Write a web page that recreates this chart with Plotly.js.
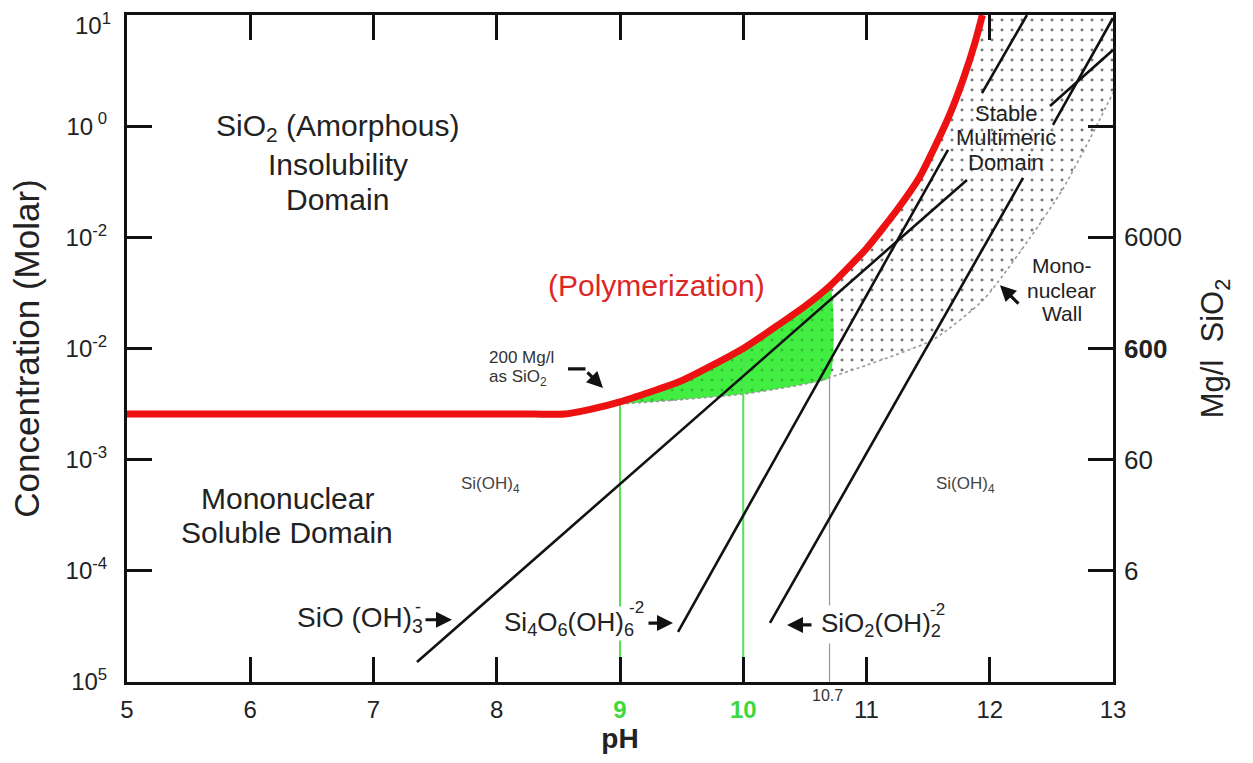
<!DOCTYPE html>
<html>
<head>
<meta charset="utf-8">
<script src="https://cdn.plot.ly/plotly-3.0.1.min.js"></script>
<style>html,body{margin:0;padding:0;background:#fff;}#chart{width:1253px;height:763px;}</style>
</head>
<body>
<div id="chart"></div>
<script>
// ---- data (pH, log10 molar concentration) ----
const redPH  = [5, 7.5, 8.3, 8.55, 8.75, 9.0, 9.5, 10.0, 10.5, 10.7, 11.0, 11.25, 11.43, 11.57, 11.69, 11.79, 11.88, 11.94];
const redLog = [-2.59, -2.59, -2.59, -2.59, -2.55, -2.48, -2.29, -2.00, -1.62, -1.44, -1.10, -0.75, -0.46, -0.15, 0.145, 0.44, 0.75, 1.0];

const wallPH  = [9.0, 9.5, 10.0, 10.5, 10.7, 11.0, 11.54, 11.95, 12.33, 12.59, 12.81, 13.0];
const wallLog = [-2.50, -2.46, -2.41, -2.32, -2.26, -2.15, -1.92, -1.56, -1.0, -0.57, -0.12, 0.30];

const monoPH   = [7.353, 11.815, null, 12.489, 13.0];
const monoLog  = [-4.82, -0.484, null, 0.181, 0.685];
const tetraPH  = [9.471, 11.661, null, 11.937, 12.302];
const tetraLog = [-4.55, -0.214, null, 0.298, 1.0];
const diPH     = [10.217, 12.27, null, 12.513, 13.0];
const diLog    = [-4.469, -0.466, null, 0.011, 0.973];

const guidePH     = [9, 10, 10.7];
const guideTopLog = [-2.48, -2.00, -2.26];
const guideColors = ['#55e055', '#55e055', '#999999'];

const xTickVals = [5, 6, 7, 8, 9, 10, 11, 12, 13];
const xTickText = ['5', '6', '7', '8',
  '<span style="color:#3fd83f"><b>9</b></span>',
  '<span style="color:#3fd83f"><b>10</b></span>', '11', '12', '13'];
const yTickVals = [1e1, 1e0, 1e-1, 1e-2, 1e-3, 1e-4, 1e-5];
const yTickText = ['', '10<sup> 0</sup>', '10<sup>-2</sup>', '10<sup>-2</sup>', '10<sup>-3</sup>', '10<sup>-4</sup>', '10<sup>5</sup>'];
const yTopLabel = '10<sup>1</sup>';
const mgTickVals = [1e-1, 1e-2, 1e-3, 1e-4];
const mgTickText = ['6000', '<b>600</b>', '60', '6'];

const X_MIN = 5, X_MAX = 13, LOG_MIN = -5, LOG_MAX = 1;
const pw = v => Math.pow(10, v);
const toC = arr => arr.map(v => v === null ? null : pw(v));

// ---- polygons built from the curves ----
const redFrom9 = redPH.map((p, i) => [p, redLog[i]]).filter(d => d[0] >= 9);
const wallAll = wallPH.map((p, i) => [p, wallLog[i]]);
const dotPoly = redFrom9.concat([[X_MAX, LOG_MAX]]).concat(wallAll.slice().reverse());
const greenTop = redFrom9.filter(d => d[0] <= 10.7);
const greenBot = wallAll.filter(d => d[0] <= 10.7).reverse();
const greenPoly = greenTop.concat(greenBot);

const traces = [];
traces.push({
  x: dotPoly.map(d => d[0]), y: dotPoly.map(d => pw(d[1])),
  mode: 'lines', line: {width: 0, shape: 'spline', smoothing: 0.6}, fill: 'toself', fillcolor: 'rgba(255,255,255,0)',
  fillpattern: {shape: '.', size: 10, solidity: 0.07, fgcolor: '#777777', bgcolor: 'rgba(255,255,255,0)'},
  hoverinfo: 'skip', showlegend: false
});
traces.push({
  x: greenPoly.map(d => d[0]), y: greenPoly.map(d => pw(d[1])),
  mode: 'lines', line: {width: 0, shape: 'spline', smoothing: 0.6}, fill: 'toself', fillcolor: 'rgb(66,238,66)',
  fillpattern: {shape: '.', size: 10, solidity: 0.07, fgcolor: '#2fbf2f', bgcolor: 'rgb(66,238,66)'},
  hoverinfo: 'skip', showlegend: false
});
traces.push({
  x: wallPH, y: toC(wallLog), mode: 'lines',
  line: {color: '#999999', width: 1.6, dash: 'dot', shape: 'spline', smoothing: 0.6}, hoverinfo: 'skip', showlegend: false
});
guidePH.forEach((p, i) => {
  traces.push({
    x: [p, p], y: [pw(LOG_MIN), pw(guideTopLog[i])], mode: 'lines',
    line: {color: guideColors[i], width: i === 2 ? 1.2 : 2}, hoverinfo: 'skip', showlegend: false
  });
});
[[monoPH, monoLog], [tetraPH, tetraLog], [diPH, diLog]].forEach(s => {
  traces.push({
    x: s[0], y: toC(s[1]), mode: 'lines', connectgaps: false,
    line: {color: '#111', width: 2.6}, hoverinfo: 'skip', showlegend: false
  });
});
traces.push({
  x: redPH, y: toC(redLog), mode: 'lines',
  line: {color: '#ee1111', width: 7, shape: 'spline', smoothing: 0.5}, hoverinfo: 'skip', showlegend: false
});
traces.push({x: [], y: [], yaxis: 'y2', mode: 'lines', hoverinfo: 'skip', showlegend: false});

const F = '"Liberation Sans", Arial, Helvetica, sans-serif';
const ann = (x, y, text, size, extra) => Object.assign({
  x: x, y: y, xref: 'x', yref: 'y', text: text, showarrow: false,
  font: {family: F, size: size, color: '#222'}
}, extra || {});
const arrow = (x, y, ax, ay, head) => ({
  x: x, y: y, xref: 'x', yref: 'y', text: '', showarrow: true,
  ax: ax, ay: ay, arrowhead: head, arrowsize: 1, arrowwidth: 3.2, arrowcolor: '#111'
});

const annotations = [
  ann(X_MIN, 0.915, yTopLabel, 24, {xanchor: 'right', xshift: -14, font: {family: F, size: 24, color: '#222'}}),
  ann(6.71, -0.016, 'SiO<sub>2</sub> (Amorphous)', 30),
  ann(6.71, -0.349, 'Insolubility', 30),
  ann(6.71, -0.664, 'Domain', 30),
  ann(6.30, -3.345, 'Mononuclear', 30),
  ann(6.30, -3.651, 'Soluble Domain', 30),
  ann(9.30, -1.43, '(Polymerization)', 30, {font: {family: F, size: 30, color: '#dd2626'}}),
  ann(7.921, -2.085, '200 Mg/l', 17, {xanchor: 'left', font: {family: F, size: 17, color: '#333'}}),
  ann(7.921, -2.265, 'as SiO<sub>2</sub>', 17, {xanchor: 'left', font: {family: F, size: 17, color: '#333'}}),
  ann(7.95, -3.23, 'Si(OH)<sub>4</sub>', 17, {font: {family: F, size: 17, color: '#444'}}),
  ann(11.80, -3.23, 'Si(OH)<sub>4</sub>', 17, {font: {family: F, size: 17, color: '#444'}}),
  ann(7.418, -4.44, 'SiO (OH)<sub>3</sub>', 28, {xanchor: 'right'}),
  ann(7.36, -4.325, '-', 18),
  ann(9.122, -4.47, 'Si<sub>4</sub>O<sub>6</sub>(OH)<sub>6</sub>', 26, {xanchor: 'right', bgcolor: '#ffffff', borderpad: 0}),
  ann(9.13, -4.334, '-2', 17),
  ann(10.606, -4.487, 'SiO<sub>2</sub>(OH)<sub>2</sub>', 26, {xanchor: 'left', bgcolor: '#ffffff', borderpad: 2}),
  ann(11.572, -4.352, '-2', 17),
  ann(12.132, 0.118, 'Stable', 22),
  ann(12.132, -0.106, 'Multimeric', 22),
  ann(12.132, -0.331, 'Domain', 22),
  ann(12.586, -1.249, 'Mono-', 21),
  ann(12.586, -1.474, 'nuclear', 21),
  ann(12.586, -1.681, 'Wall', 21),
  {x: 10.68, y: -0.0195, xref: 'x', yref: 'paper', yanchor: 'middle', text: '10.7', showarrow: false,
   font: {family: F, size: 16, color: '#333'}},
  arrow(7.637, -4.44, -28, 0, 2),
  arrow(9.43, -4.47, -26, 0, 2),
  arrow(10.355, -4.487, 26, 0, 2),
  arrow(12.083, -1.43, 20, 20, 2),
  arrow(8.862, -2.355, -17, -17, 2),
  {x: 8.72, y: -2.184, xref: 'x', yref: 'y', text: '', showarrow: true, ax: -19, ay: 0,
   arrowhead: 0, arrowwidth: 3.2, arrowcolor: '#111'}
];

const layout = {
  width: 1253, height: 763,
  margin: {l: 127, r: 140, t: 15, b: 81},
  paper_bgcolor: '#fff', plot_bgcolor: '#fff',
  showlegend: false,
  font: {family: F, color: '#222'},
  xaxis: {
    range: [X_MIN, X_MAX], tickvals: xTickVals, ticktext: xTickText,
    ticks: 'inside', ticklen: 25, tickwidth: 3, tickcolor: '#111',
    showline: true, linewidth: 3, linecolor: '#111', mirror: 'ticks',
    showgrid: false, zeroline: false, ticklabelstandoff: 4, ticklabeloverflow: 'allow',
    tickfont: {family: F, size: 24, color: '#222'},
    title: {text: '<b>pH</b>', font: {family: F, size: 28, color: '#222'}, standoff: 6}
  },
  yaxis: {
    type: 'log', range: [LOG_MIN, LOG_MAX], tickvals: yTickVals, ticktext: yTickText,
    ticks: 'inside', ticklen: 25, tickwidth: 3, tickcolor: '#111',
    showline: true, linewidth: 3, linecolor: '#111', mirror: 'ticks',
    showgrid: false, zeroline: false, ticklabelstandoff: 12, ticklabeloverflow: 'allow',
    tickfont: {family: F, size: 24, color: '#222'},
    title: {text: 'Concentration (Molar)', font: {family: F, size: 35, color: '#222'}, standoff: 16}
  },
  yaxis2: {
    type: 'log', range: [LOG_MIN, LOG_MAX], overlaying: 'y', side: 'right',
    tickvals: mgTickVals, ticktext: mgTickText, ticks: '', showline: false,
    showgrid: false, zeroline: false, ticklabelstandoff: 10, ticklabeloverflow: 'allow',
    tickfont: {family: F, size: 26, color: '#222'},
    title: {text: 'Mg/l  SiO<sub>2</sub>', font: {family: F, size: 31, color: '#222'}, standoff: 20}
  },
  annotations: annotations
};

Plotly.newPlot('chart', traces, layout, {displayModeBar: false, staticPlot: true});
</script>
</body>
</html>
